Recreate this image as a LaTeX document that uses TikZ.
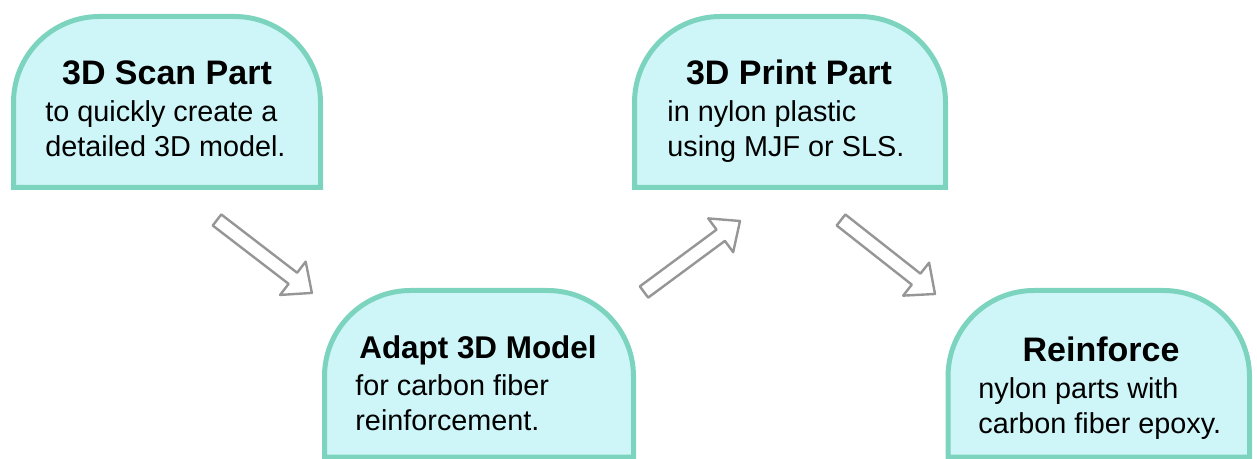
\documentclass[tikz,border=0pt]{standalone}
\usepackage{fontspec}
\setmainfont{Liberation Sans}
\usetikzlibrary{calc}

\definecolor{boxfill}{RGB}{206,246,248}
\definecolor{boxedge}{RGB}{124,212,190}
\definecolor{arrowedge}{RGB}{150,150,150}

\tikzset{
  box/.style={draw=boxedge,fill=boxfill,line width=2.5pt},
  boxtitle/.style={font=\bfseries\fontsize{17}{20}\selectfont,anchor=base,inner sep=0pt},
  boxtext/.style={font=\fontsize{14.4}{17.5}\selectfont,anchor=base west,align=left,inner sep=0pt},
  fatarrow/.style={draw=arrowedge,fill=white,line width=1.2pt,line join=round}
}

% box with round top corners: left, top, right, bottom
\newcommand{\topround}[4]{%
  \draw[box] (#1,#4) -- (#1,#2+86) arc[start angle=180,end angle=90,radius=43pt]
    -- (#3-86,#2) arc[start angle=90,end angle=0,radius=43pt] -- (#3,#4) -- cycle;}

% hollow arrow from tail to tip
\newcommand{\hollowarrow}[2]{%
  \draw[fatarrow] let \p1=($(#2)-(#1)$), \n1={atan2(\y1,\x1)}, \n2={veclen(\x1,\y1)} in
    [shift={(#1)},rotate=\n1]
    (0pt,3.5pt) -- ({(\n2-12)*1pt},3.5pt) -- ({(\n2-12)*1pt},10.5pt) -- ({\n2*1pt},0pt)
    -- ({(\n2-12)*1pt},-10.5pt) -- ({(\n2-12)*1pt},-3.5pt) -- (0pt,-3.5pt) -- cycle;}

\begin{document}
\begin{tikzpicture}[x=0.5pt,y=-0.5pt]
\useasboundingbox (0,0) rectangle (1257,459);

\topround{13.5}{16.5}{320.5}{187.5}
\topround{634.5}{16.5}{945.5}{187.5}
\topround{324.5}{290.5}{633.5}{457}
\topround{948}{290.5}{1249.5}{457}

% text nodes sit on the baseline of their last line
\node[boxtitle] (scan) at (167,85) {3D Scan Part};
\node[boxtext] (scantext) at (45,157) {to quickly create a\\detailed 3D model.};

\node[boxtitle,font=\bfseries\fontsize{15.7}{19}\selectfont] (adapt) at (478,358) {Adapt 3D Model};
\node[boxtext] (adapttext) at (355,430) {for carbon fiber\\reinforcement.};

\node[boxtitle] (print) at (789,85) {3D Print Part};
\node[boxtext] (printtext) at (667,157) {in nylon plastic\\using MJF or SLS.};

\node[boxtitle] (reinf) at (1101,362) {Reinforce};
\node[boxtext] (reinftext) at (978,433) {nylon parts with\\carbon fiber epoxy.};

\coordinate (s1) at (217,220);
\coordinate (e1) at (312,293);
\coordinate (s2) at (644,292);
\coordinate (e2) at (740,221);
\coordinate (s3) at (841,220);
\coordinate (e3) at (935,294);

\hollowarrow{s1}{e1}
\hollowarrow{s2}{e2}
\hollowarrow{s3}{e3}
\end{tikzpicture}
\end{document}
